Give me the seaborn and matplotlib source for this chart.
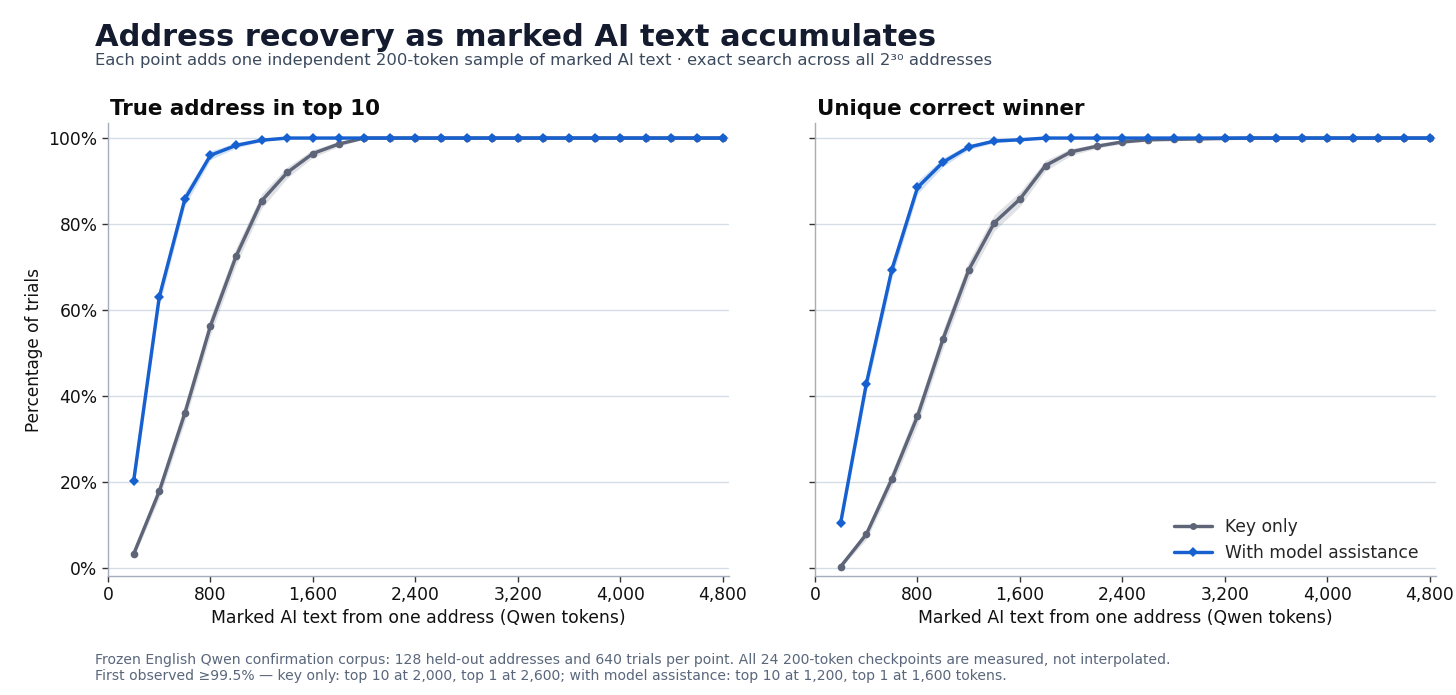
import numpy as np
import pandas as pd
import matplotlib
matplotlib.use("Agg")
import matplotlib.pyplot as plt
from matplotlib.ticker import FuncFormatter, FixedLocator
from matplotlib.lines import Line2D
import seaborn as sns

# ---------------- data ----------------
tokens = [200, 400, 600, 800, 1000, 1200, 1400, 1600, 1800, 2000, 2200, 2400,
          2600, 2800, 3000, 3200, 3400, 3600, 3800, 4000, 4200, 4400, 4600, 4800]

top10_key = [3.2, 17.8, 36.0, 56.3, 72.5, 85.4, 92.0, 96.4, 98.6, 100.0, 100.0, 100.0,
             100.0, 100.0, 100.0, 100.0, 100.0, 100.0, 100.0, 100.0, 100.0, 100.0, 100.0, 100.0]
top10_model = [20.2, 63.0, 85.8, 96.0, 98.3, 99.5, 100.0, 100.0, 100.0, 100.0, 100.0, 100.0,
               100.0, 100.0, 100.0, 100.0, 100.0, 100.0, 100.0, 100.0, 100.0, 100.0, 100.0, 100.0]

top1_key = [0.3, 7.8, 20.7, 35.3, 53.3, 69.3, 80.3, 85.8, 93.6, 96.8, 98.1, 99.1,
            99.6, 99.7, 99.8, 99.9, 100.0, 100.0, 100.0, 100.0, 100.0, 100.0, 100.0, 100.0]
top1_model = [10.5, 42.8, 69.4, 88.5, 94.4, 97.9, 99.3, 99.6, 100.0, 100.0, 100.0, 100.0,
              100.0, 100.0, 100.0, 100.0, 100.0, 100.0, 100.0, 100.0, 100.0, 100.0, 100.0, 100.0]

# half-width of the shaded uncertainty band (percentage points)
band_top10_key = [0.8, 1.6, 2.0, 2.1, 2.0, 1.7, 1.3, 0.9, 0.6, 0.1, 0, 0, 0, 0, 0, 0, 0, 0, 0, 0, 0, 0, 0, 0]
band_top10_model = [1.8, 2.0, 1.6, 1.0, 0.6, 0.3, 0.1, 0, 0, 0, 0, 0, 0, 0, 0, 0, 0, 0, 0, 0, 0, 0, 0, 0]
band_top1_key = [0.3, 1.2, 1.7, 2.0, 2.1, 2.0, 1.9, 1.7, 1.2, 0.8, 0.5, 0.4, 0.3, 0.2, 0.1, 0.1, 0, 0, 0, 0, 0, 0, 0, 0]
band_top1_model = [1.4, 2.0, 1.9, 1.5, 1.0, 0.6, 0.4, 0.2, 0, 0, 0, 0, 0, 0, 0, 0, 0, 0, 0, 0, 0, 0, 0, 0]

panel_titles = ["True address in top 10", "Unique correct winner"]
series_names = ["Key only", "With model assistance"]
x_ticks = [0, 800, 1600, 2400, 3200, 4000, 4800]
y_ticks = [0, 20, 40, 60, 80, 100]

title = "Address recovery as marked AI text accumulates"
subtitle = ("Each point adds one independent 200-token sample of marked AI text \u00b7 "
            "exact search across all 2\u00b3\u2070 addresses")
footer1 = ("Frozen English Qwen confirmation corpus: 128 held-out addresses and 640 trials per point. "
           "All 24 200-token checkpoints are measured, not interpolated.")
footer2 = ("First observed \u226599.5% \u2014 key only: top 10 at 2,000, top 1 at 2,600; "
           "with model assistance: top 10 at 1,200, top 1 at 1,600 tokens.")

# ---------------- style ----------------
sns.set_theme(style="white")
plt.rcParams["font.family"] = ["DejaVu Sans"]

GRAY = "#5f6578"
BLUE = "#1660d0"
GRID = "#d5dde6"
SPINE = "#a3adbb"

fig = plt.figure(figsize=(14.56, 6.95), dpi=100)
axL = fig.add_axes([0.0742, 0.1712, 0.4265, 0.6518])
axR = fig.add_axes([0.5598, 0.1712, 0.4265, 0.6518])

panels = [
    (axL, top10_key, top10_model, band_top10_key, band_top10_model),
    (axR, top1_key, top1_model, band_top1_key, band_top1_model),
]

for i, (ax, key, model, bk, bm) in enumerate(panels):
    df = pd.DataFrame({
        "tokens": tokens * 2,
        "pct": key + model,
        "series": [series_names[0]] * len(tokens) + [series_names[1]] * len(tokens),
    })
    xs = np.array(tokens)
    for vals, band, col in ((key, bk, GRAY), (model, bm, BLUE)):
        v = np.array(vals)
        b = np.array(band)
        ax.fill_between(xs, v - b, np.minimum(v + b, 100.4), color=col, alpha=0.19, lw=0, zorder=2)
    sns.lineplot(data=df, x="tokens", y="pct", hue="series", style="series",
                 palette={series_names[0]: GRAY, series_names[1]: BLUE},
                 markers={series_names[0]: "o", series_names[1]: "D"},
                 dashes=False, markersize=5.5, markeredgewidth=0, linewidth=2.45,
                 ax=ax, legend=False, zorder=3)

    ax.set_xlim(0, 4850)
    ax.set_ylim(-1.9, 103.5)
    ax.xaxis.set_major_locator(FixedLocator(x_ticks))
    ax.yaxis.set_major_locator(FixedLocator(y_ticks))
    ax.xaxis.set_major_formatter(FuncFormatter(lambda v, p: f"{int(v):,}"))
    ax.yaxis.set_major_formatter(FuncFormatter(lambda v, p: f"{int(v)}%"))
    ax.grid(axis="y", color=GRID, linewidth=1.0, zorder=0)
    ax.grid(axis="x", visible=False)
    ax.set_axisbelow(True)
    for s in ["top", "right"]:
        ax.spines[s].set_visible(False)
    for s in ["left", "bottom"]:
        ax.spines[s].set_color(SPINE)
        ax.spines[s].set_linewidth(1.0)
    ax.tick_params(axis="both", which="major", length=4, width=1, color="#333333",
                   labelsize=12.3, labelcolor="#111111", bottom=True, left=True)
    ax.set_xlabel("Marked AI text from one address (Qwen tokens)", fontsize=12.4, color="#111111", labelpad=3.5)
    ax.set_title(panel_titles[i], loc="left", fontsize=15.4, fontweight="bold", color="#0b0b0b",
                 pad=5.5, x=0.003)

axL.set_ylabel("Percentage of trials", fontsize=12.2, color="#111111", labelpad=4)
axR.set_ylabel("")
axR.tick_params(axis="y", labelleft=False)

handles = [
    Line2D([0], [0], color=GRAY, lw=2.45, marker="o", markersize=5, markeredgewidth=0),
    Line2D([0], [0], color=BLUE, lw=2.45, marker="D", markersize=5, markeredgewidth=0),
]
axR.legend(handles, series_names, loc="lower right", frameon=False, fontsize=12.3,
           handlelength=2.2, borderaxespad=0.6, labelspacing=0.45,
           bbox_to_anchor=(1.0, -0.006))

fig.text(0.0652, 0.934, title, fontsize=22, fontweight="bold", color="#141b2e", ha="left", va="baseline")
fig.text(0.0652, 0.907, subtitle, fontsize=11.8, color="#3c4a5e", ha="left", va="baseline")
fig.text(0.0652, 0.044, footer1, fontsize=10.1, color="#5a677b", ha="left", va="baseline")
fig.text(0.0652, 0.021, footer2, fontsize=10.1, color="#5a677b", ha="left", va="baseline")

fig.savefig("out.png", dpi=100)
